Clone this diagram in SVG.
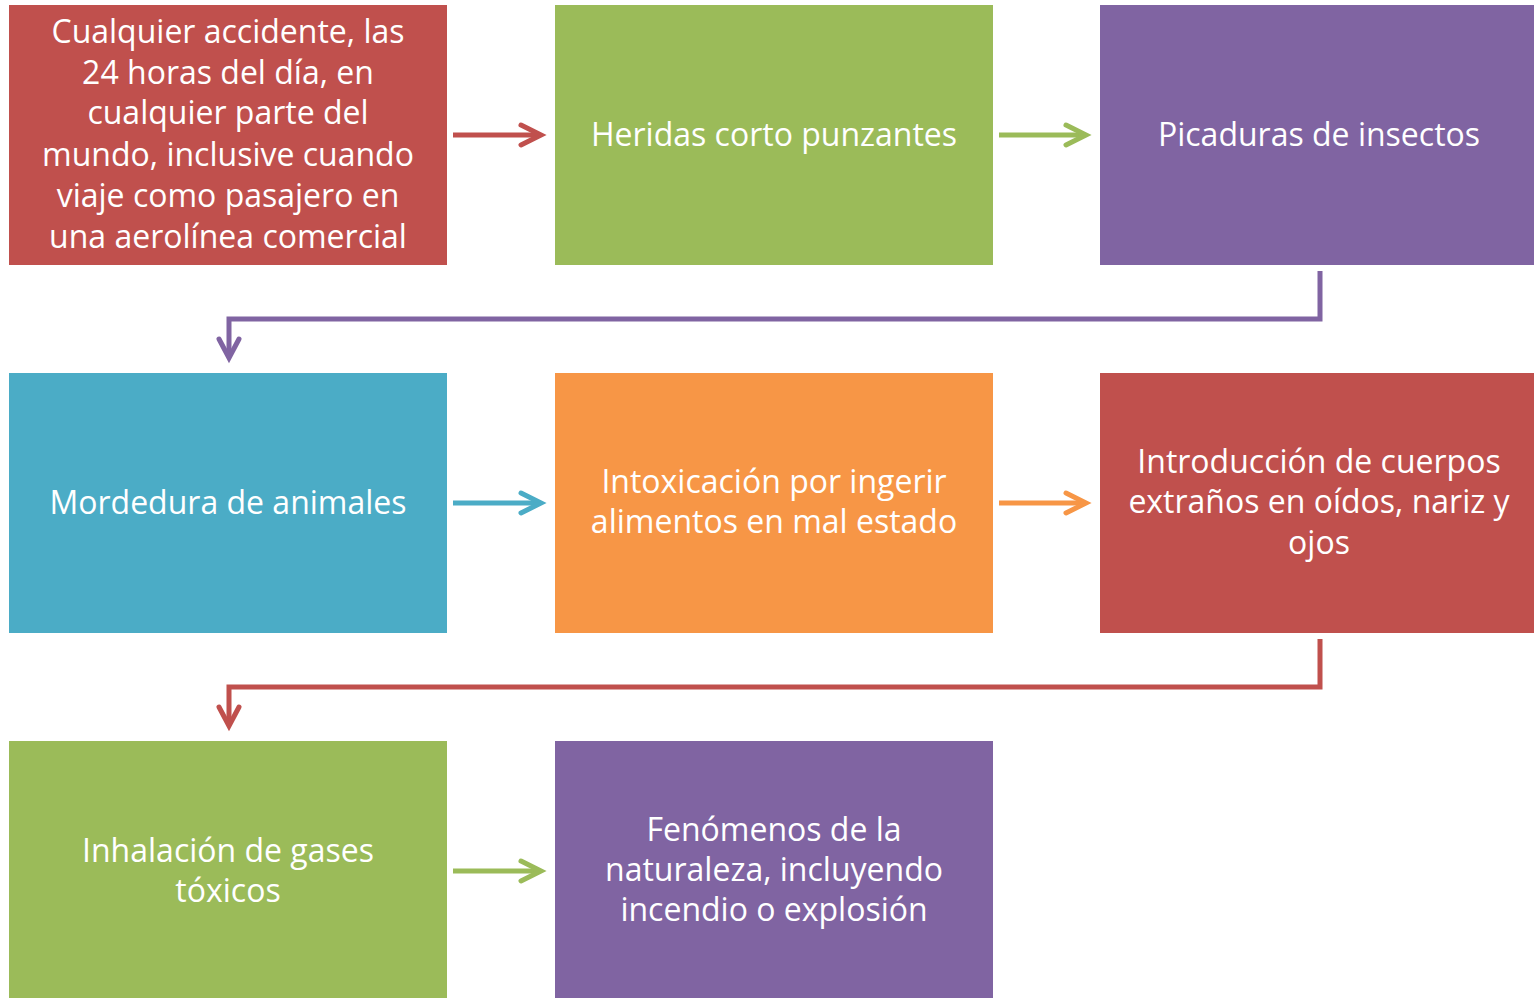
<svg xmlns="http://www.w3.org/2000/svg" width="1534" height="998" viewBox="0 0 1534 998">
<defs>
<style>
.t{font-family:"Open Sans","Liberation Sans",sans-serif;font-size:32px;fill:#fff;text-anchor:middle}
.c{fill:none;stroke-width:5;stroke-linecap:butt;stroke-linejoin:miter}
.h{fill:none;stroke-width:5;stroke-linecap:round;stroke-linejoin:miter}
</style>
</defs>
<rect width="1534" height="998" fill="#fff"/>
<g id="n1"><rect x="9" y="5" width="438" height="260" fill="#C0504D"/>
<text class="t"><tspan x="228" y="43">Cualquier accidente, las</tspan><tspan x="228" y="84">24 horas del día, en</tspan><tspan x="228" y="124">cualquier parte del</tspan><tspan x="228" y="166">mundo, inclusive cuando</tspan><tspan x="228" y="207">viaje como pasajero en</tspan><tspan x="228" y="248">una aerolínea comercial</tspan></text></g>
<g id="n2"><rect x="555" y="5" width="438" height="260" fill="#9BBB59"/>
<text class="t" x="774" y="146">Heridas corto punzantes</text></g>
<g id="n3"><rect x="1100" y="5" width="434" height="260" fill="#8064A2"/>
<text class="t" x="1319" y="146">Picaduras de insectos</text></g>
<g id="n4"><rect x="9" y="373" width="438" height="260" fill="#4BACC6"/>
<text class="t" x="228" y="514">Mordedura de animales</text></g>
<g id="n5"><rect x="555" y="373" width="438" height="260" fill="#F79646"/>
<text class="t"><tspan x="774" y="493">Intoxicación por ingerir</tspan><tspan x="774" y="533">alimentos en mal estado</tspan></text></g>
<g id="n6"><rect x="1100" y="373" width="434" height="260" fill="#C0504D"/>
<text class="t"><tspan x="1319" y="473">Introducción de cuerpos</tspan><tspan x="1319" y="513">extraños en oídos, nariz y</tspan><tspan x="1319" y="554">ojos</tspan></text></g>
<g id="n7"><rect x="9" y="741" width="438" height="257" fill="#9BBB59"/>
<text class="t"><tspan x="228" y="862">Inhalación de gases</tspan><tspan x="228" y="902">tóxicos</tspan></text></g>
<g id="n8"><rect x="555" y="741" width="438" height="257" fill="#8064A2"/>
<text class="t"><tspan x="774" y="841">Fenómenos de la</tspan><tspan x="774" y="881">naturaleza, incluyendo</tspan><tspan x="774" y="921">incendio o explosión</tspan></text></g>
<g id="connectors">
<path class="c" stroke="#C0504D" d="M453 135H539"/><path class="h" stroke="#C0504D" d="M521 125L541 135L521 145"/>
<path class="c" stroke="#9BBB59" d="M999 135H1084"/><path class="h" stroke="#9BBB59" d="M1066 125L1086 135L1066 145"/>
<path class="c" stroke="#8064A2" d="M1320 271V319H229V356"/><path class="h" stroke="#8064A2" d="M219 339L229 358L239 339"/>
<path class="c" stroke="#4BACC6" d="M453 503H539"/><path class="h" stroke="#4BACC6" d="M521 493L541 503L521 513"/>
<path class="c" stroke="#F79646" d="M999 503H1084"/><path class="h" stroke="#F79646" d="M1066 493L1086 503L1066 513"/>
<path class="c" stroke="#C0504D" d="M1320 639V687H229V724"/><path class="h" stroke="#C0504D" d="M219 707L229 726L239 707"/>
<path class="c" stroke="#9BBB59" d="M453 871H539"/><path class="h" stroke="#9BBB59" d="M521 861L541 871L521 881"/>
</g>
</svg>
